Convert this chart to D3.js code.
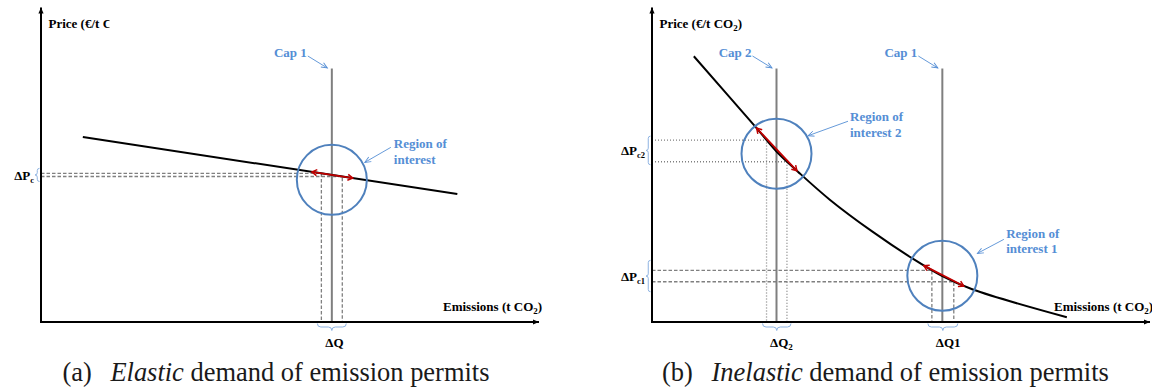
<!DOCTYPE html>
<html>
<head>
<meta charset="utf-8">
<script src="https://cdn.jsdelivr.net/npm/d3@7"></script>
<style>
  html, body { margin: 0; padding: 0; background: #fff; }
  svg { display: block; }
</style>
</head>
<body>
<svg id="chart" width="1152" height="387"></svg>
<script>
// ---- Data (relative units: 0–100 on both axes) ----
// Demand curves as [emissions, price]
const elasticDemand = [[8.4, 58.8], [83.6, 40.7]];
const inelasticDemand = [[8.4, 84.5], [20.7, 62.2], [25.0, 54.2], [29.3, 47.8], [35.7, 38.9],
                         [44.2, 28.8], [52.2, 20.3], [58.3, 14.6], [64.3, 10.4], [83.3, 1.5]];

// Emission caps
const capNamesA = ["Cap 1"];
const capValuesA = [58.4];
const capNamesB = ["Cap 2", "Cap 1"];
const capValuesB = [25.0, 58.3];
const capTop = 80.6;

// Quantity band around each cap
const deltaQA = [[56.3, 60.5]];
const deltaQB = [[23.0, 27.1], [56.2, 60.6]];

// Extent of the price-shift arrow along the demand curve
const shiftA = [[54.4, 62.6]];
const shiftB = [[21.0, 29.1], [54.6, 62.6]];

// Price level of each region-of-interest centre
const regionPriceA = [45.2];
const regionPriceB = [53.5, 14.7];
const regionLabelsA = [["Region of", "interest"]];
const regionLabelsB = [["Region of", "interest 2"], ["Region of", "interest 1"]];

// Axis / band labels: [main text, subscript]
const deltaPLabelsA = [["ΔP", "c"]];
const deltaPLabelsB = [["ΔP", "c2"], ["ΔP", "c1"]];
const deltaQLabelsA = [["ΔQ", ""]];
const deltaQLabelsB = [["ΔQ", "2"], ["ΔQ1", ""]];

const captionA = ["(a)", "Elastic", " demand of emission permits"];
const captionB = ["(b)", "Inelastic", " demand of emission permits"];

// ---- Styling ----
const SERIF = "'Liberation Serif', 'Times New Roman', serif";
const BLUE_TEXT = "#558ed5", CIRCLE = "#4f81bd", GRAY = "#7f7f7f",
      RED = "#c00000", BRACE = "#8db3e2", GUIDE = "#808080";

const svg = d3.select("#chart");
const defs = svg.append("defs");

function addMarker(id, d, stroke, fill, sw, orient) {
  defs.append("marker")
    .attr("id", id)
    .attr("viewBox", "-10 -6 12 12")
    .attr("refX", 0).attr("refY", 0)
    .attr("markerWidth", 12).attr("markerHeight", 12)
    .attr("markerUnits", "userSpaceOnUse")
    .attr("orient", orient || "auto")
    .append("path")
    .attr("d", d)
    .attr("fill", fill)
    .attr("stroke", stroke)
    .attr("stroke-width", sw);
}
addMarker("axisHead", "M-6,-2.6 L0,0 L-6,2.6 Z", "none", "#000", 0);
addMarker("blueHead", "M-6,-2.6 L0,0 L-6,2.6", BLUE_TEXT, "none", 0.9);
addMarker("redHead", "M-5,-3 L0,0 L-5,3", RED, "none", 1.5, "auto-start-reverse");

svg.append("clipPath").attr("id", "clipPriceA")
  .append("rect").attr("x", 0).attr("y", 0).attr("width", 109.5).attr("height", 60);

function labelWithSub(sel, main, sub, subSize) {
  sel.append("tspan").text(main);
  if (sub) {
    sel.append("tspan").attr("font-size", subSize).attr("dy", 3).text(sub);
  }
}

function vBrace(xr, y1, y2, w) {
  const m = (y1 + y2) / 2, h = w / 2;
  return `M${xr},${y1} Q${xr - h},${y1} ${xr - h},${y1 + h} L${xr - h},${m - h} ` +
         `Q${xr - h},${m} ${xr - w},${m} Q${xr - h},${m} ${xr - h},${m + h} ` +
         `L${xr - h},${y2 - h} Q${xr - h},${y2} ${xr},${y2}`;
}
function hBrace(x1, x2, yt, w) {
  const m = (x1 + x2) / 2, h = w / 2;
  return `M${x1},${yt} Q${x1},${yt + h} ${x1 + h},${yt + h} L${m - h},${yt + h} ` +
         `Q${m},${yt + h} ${m},${yt + w} Q${m},${yt + h} ${m + h},${yt + h} ` +
         `L${x2 - h},${yt + h} Q${x2},${yt + h} ${x2},${yt}`;
}

// Find the point of a rendered path at a given x (path is monotone in x)
function pointAtX(node, xt) {
  let lo = 0, hi = node.getTotalLength();
  for (let i = 0; i < 40; i++) {
    const mid = (lo + hi) / 2;
    if (node.getPointAtLength(mid).x < xt) lo = mid; else hi = mid;
  }
  return node.getPointAtLength((lo + hi) / 2);
}

function drawPanel(cfg) {
  const x = d3.scaleLinear().domain([0, 100]).range([cfg.left, cfg.left + 498]);
  const y = d3.scaleLinear().domain([0, 100]).range([322, 7.5]);
  const g = svg.append("g");
  const gGuides = g.append("g");
  const gCaps = g.append("g");
  const gCurve = g.append("g");
  const gAxes = g.append("g");
  const gAnn = g.append("g");

  // demand curve
  const line = d3.line().x(d => x(d[0])).y(d => y(d[1])).curve(cfg.curve);
  const curve = gCurve.append("path")
    .datum(cfg.demand)
    .attr("d", line)
    .attr("fill", "none")
    .attr("stroke", "#000")
    .attr("stroke-width", 2);
  const node = curve.node();

  // axes
  gAxes.append("line")
    .attr("x1", x(0)).attr("y1", y(0)).attr("x2", x(0)).attr("y2", y(100))
    .attr("stroke", "#000").attr("stroke-width", 2).attr("marker-end", "url(#axisHead)");
  gAxes.append("line")
    .attr("x1", x(0) - 1).attr("y1", y(0)).attr("x2", x(100)).attr("y2", y(0))
    .attr("stroke", "#000").attr("stroke-width", 2).attr("marker-end", "url(#axisHead)");

  const priceLabel = gAxes.append("text")
    .attr("x", x(0) + 7.5).attr("y", 28)
    .attr("font-family", SERIF).attr("font-weight", "bold").attr("font-size", 13);
  priceLabel.append("tspan").text("Price (€/t CO");
  priceLabel.append("tspan").attr("font-size", 9).attr("dy", 3).text("2");
  priceLabel.append("tspan").attr("dy", -3).text(")");
  if (cfg.clipPrice) priceLabel.attr("clip-path", "url(#" + cfg.clipPrice + ")");

  const emLabel = gAxes.append("text")
    .attr("x", x(100) - 96).attr("y", 311)
    .attr("font-family", SERIF).attr("font-weight", "bold").attr("font-size", 13);
  emLabel.append("tspan").text("Emissions (t CO");
  emLabel.append("tspan").attr("font-size", 9).attr("dy", 3).text("2");
  emLabel.append("tspan").attr("dy", -3).text(")");

  // caps
  cfg.caps.forEach((q, i) => {
    const cx = x(q);
    gCaps.append("line")
      .attr("x1", cx).attr("x2", cx).attr("y1", y(0)).attr("y2", y(capTop))
      .attr("stroke", GRAY).attr("stroke-width", 2);
    gAnn.append("text")
      .attr("x", cx - 25).attr("y", 57)
      .attr("text-anchor", "end")
      .attr("font-family", SERIF).attr("font-weight", "bold").attr("font-size", 13)
      .attr("fill", BLUE_TEXT)
      .text(cfg.capNames[i]);
    gAnn.append("line")
      .attr("x1", cx - 24).attr("y1", 56).attr("x2", cx - 4.5).attr("y2", 68)
      .attr("stroke", BLUE_TEXT).attr("stroke-width", 0.9)
      .attr("marker-end", "url(#blueHead)");
  });

  // bands, braces, circles and shift arrows for each region
  cfg.deltaQ.forEach((band, i) => {
    const L = cfg.layout[i];
    const pa = pointAtX(node, x(band[0]));
    const pb = pointAtX(node, x(band[1]));
    [pa, pb].forEach(p => {
      gGuides.append("path")
        .attr("d", `M${x(0)},${p.y} H${p.x} V${y(0)}`)
        .attr("fill", "none")
        .attr("stroke", GUIDE).attr("stroke-width", 1.3)
        .attr("stroke-dasharray", L.dash);
    });

    // price brace + label
    const yTop = Math.min(pa.y, pb.y) - L.padTop, yBot = Math.max(pa.y, pb.y) + L.padBot;
    const bx = x(0) - 1.5, bw = 4.5;
    gAnn.append("path")
      .attr("d", vBrace(bx, yTop, yBot, bw))
      .attr("fill", "none").attr("stroke", BRACE).attr("stroke-width", 1);
    const pl = gAnn.append("text")
      .attr("x", bx - bw - 1).attr("y", (yTop + yBot) / 2 + 5)
      .attr("text-anchor", "end")
      .attr("font-family", SERIF).attr("font-weight", "bold").attr("font-size", 13);
    labelWithSub(pl, cfg.dpLabels[i][0], cfg.dpLabels[i][1], 8.5);

    // quantity brace + label
    gAnn.append("path")
      .attr("d", hBrace(pa.x - 4, pb.x + 4, y(0) + 1.5, 7))
      .attr("fill", "none").attr("stroke", BRACE).attr("stroke-width", 1);
    const ql = gAnn.append("text")
      .attr("x", x(cfg.caps[i]) - 6.5).attr("y", 347)
      .attr("font-family", SERIF).attr("font-weight", "bold").attr("font-size", 13);
    labelWithSub(ql, cfg.dqLabels[i][0], cfg.dqLabels[i][1], 9);

    // region of interest circle
    const ccx = x(cfg.caps[i]), ccy = y(cfg.regionPrice[i]);
    gAnn.append("circle")
      .attr("cx", ccx).attr("cy", ccy).attr("r", 35)
      .attr("fill", "none").attr("stroke", CIRCLE).attr("stroke-width", 2);
    const rl = gAnn.append("text")
      .attr("font-family", SERIF).attr("font-weight", "bold").attr("font-size", 13)
      .attr("fill", BLUE_TEXT);
    cfg.regionLabels[i].forEach((t, k) => {
      rl.append("tspan").attr("x", ccx + L.lx).attr("y", ccy + L.ly + k * 15.5).text(t);
    });
    gAnn.append("line")
      .attr("x1", ccx + L.a1[0]).attr("y1", ccy + L.a1[1])
      .attr("x2", ccx + L.a2[0]).attr("y2", ccy + L.a2[1])
      .attr("stroke", BLUE_TEXT).attr("stroke-width", 0.9)
      .attr("marker-end", "url(#blueHead)");

    // price-shift arrow along the demand curve
    const s0 = pointAtX(node, x(cfg.shift[i][0]));
    const s1 = pointAtX(node, x(cfg.shift[i][1]));
    gAnn.append("line")
      .attr("x1", s0.x).attr("y1", s0.y).attr("x2", s1.x).attr("y2", s1.y)
      .attr("stroke", RED).attr("stroke-width", 1.8)
      .attr("marker-start", "url(#redHead)").attr("marker-end", "url(#redHead)");
  });

  // caption, sized so that it spans the given width
  const cap = svg.append("text")
    .attr("x", cfg.captionX).attr("y", 380.5)
    .attr("font-family", SERIF).attr("fill", "#1a1a1a");
  cap.append("tspan").text(cfg.caption[0]);
  const it = cap.append("tspan").attr("font-style", "italic").text(cfg.caption[1]);
  cap.append("tspan").text(cfg.caption[2]);
  let fs = 22;
  for (let k = 0; k < 3; k++) {
    cap.attr("font-size", fs); it.attr("dx", fs * 0.7);
    const w = cap.node().getBBox().width;
    fs = fs * cfg.captionWidth / w;
  }
  cap.attr("font-size", fs); it.attr("dx", fs * 0.7);
}

drawPanel({
  left: 41,
  demand: elasticDemand,
  curve: d3.curveLinear,
  caps: capValuesA,
  capNames: capNamesA,
  deltaQ: deltaQA,
  shift: shiftA,
  regionPrice: regionPriceA,
  regionLabels: regionLabelsA,
  dpLabels: deltaPLabelsA,
  dqLabels: deltaQLabelsA,
  clipPrice: "clipPriceA",
  caption: captionA,
  captionX: 62.5,
  captionWidth: 427,
  layout: [
    { dash: "3.5,2", padTop: 5, padBot: 5, lx: 62, ly: -31.5, a1: [59, -32.5], a2: [33, -17.5] }
  ]
});

drawPanel({
  left: 652,
  demand: inelasticDemand,
  curve: d3.curveCatmullRom.alpha(0.5),
  caps: capValuesB,
  capNames: capNamesB,
  deltaQ: deltaQB,
  shift: shiftB,
  regionPrice: regionPriceB,
  regionLabels: regionLabelsB,
  dpLabels: deltaPLabelsB,
  dqLabels: deltaQLabelsB,
  clipPrice: null,
  caption: captionB,
  captionX: 662,
  captionWidth: 447,
  layout: [
    { dash: "1,2", padTop: 4, padBot: 3, lx: 73.5, ly: -32.3, a1: [71.5, -32.5], a2: [31.5, -18] },
    { dash: "3.5,2", padTop: 10, padBot: 10, lx: 63.8, ly: -38, a1: [61.5, -36.4], a2: [35.1, -22.4] }
  ]
});
</script>
</body>
</html>
